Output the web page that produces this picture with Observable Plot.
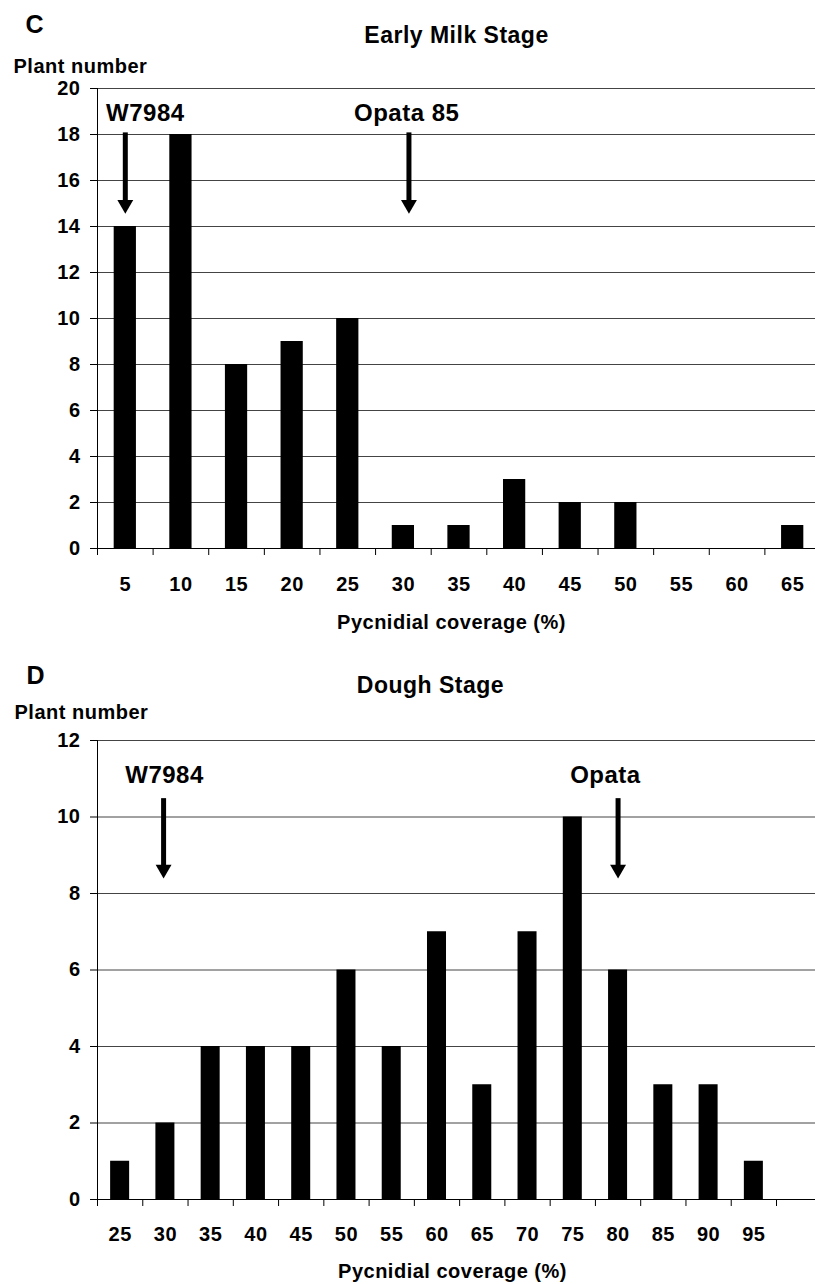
<!DOCTYPE html>
<html><head><meta charset="utf-8">
<script src="https://cdn.jsdelivr.net/npm/d3@7"></script>
<script src="https://cdn.jsdelivr.net/npm/@observablehq/plot@0.6"></script>
<style>
body{margin:0;background:#fff;}
#wrap{width:815px;}
#wrap svg{display:block;}
#wrap svg text{letter-spacing:0.5px;}
</style></head><body><div id="wrap"></div>
<script>
// ---- Panel C: Early Milk Stage ----
const milkCoverage = [5, 10, 15, 20, 25, 30, 35, 40, 45, 50, 55, 60, 65];
const milkPlants   = [14, 18, 8, 9, 10, 1, 1, 3, 2, 2, 0, 0, 1];
const milkYTicks   = [0, 2, 4, 6, 8, 10, 12, 14, 16, 18, 20];
const milkArrowNames = ["W7984", "Opata 85"];
const milkArrowX     = [5, 30.5];
const milkLabelX     = [6.8, 30.3];
const milkLabelY     = [18.6, 18.6];
const milkArrowTop   = [18.07, 18.07];
const milkArrowTip   = [14.55, 14.55];

// ---- Panel D: Dough Stage ----
const doughCoverage = [25, 30, 35, 40, 45, 50, 55, 60, 65, 70, 75, 80, 85, 90, 95];
const doughPlants   = [1, 2, 4, 4, 4, 6, 4, 7, 3, 7, 10, 6, 3, 3, 1];
const doughYTicks   = [0, 2, 4, 6, 8, 10, 12];
const doughArrowNames = ["W7984", "Opata"];
const doughArrowX     = [29.8, 80];
const doughLabelX     = [29.9, 78.6];
const doughLabelY     = [10.9, 10.9];
const doughArrowTop   = [10.48, 10.48];
const doughArrowTip   = [8.39, 8.39];

const FONT = "'Liberation Sans', Arial, Helvetica, sans-serif";

function panel(cfg) {
  const data = cfg.coverage.map((c, i) => ({c, n: cfg.plants[i]}));
  const lo = cfg.coverage[0] - 2.5;
  const hi = cfg.coverage[cfg.coverage.length - 1] + 2.5;
  const bounds = [...cfg.coverage.map(c => c - 2.5), hi];
  const arrows = cfg.names.map((name, i) => ({
    name, x: cfg.arrowX[i], lx: cfg.labelX[i], ly: cfg.labelY[i],
    top: cfg.arrowTop[i], tip: cfg.arrowTip[i]
  }));
  const ymax = cfg.yTicks[cfg.yTicks.length - 1];
  return Plot.plot({
    width: 815, height: cfg.height,
    marginLeft: 97, marginRight: 0, marginTop: cfg.marginTop, marginBottom: cfg.marginBottom,
    style: {fontFamily: FONT, fontSize: "20px", fontWeight: "bold", color: "#000", background: "#fff"},
    x: {type: "linear", domain: [lo, hi], range: [97, cfg.xRight], ticks: bounds,
        tickFormat: () => "", tickSize: 7, label: null},
    y: {domain: [0, ymax], ticks: cfg.yTicks, tickSize: 7, tickPadding: 10, label: null,
        tickFormat: d => String(d)},
    marks: [
      Plot.ruleY(cfg.yTicks.filter(t => t > 0), {stroke: "#444", strokeWidth: 1}),
      Plot.rect(data, {x1: d => d.c - cfg.halfBar, x2: d => d.c + cfg.halfBar, y1: 0, y2: "n", fill: "#000"}),
      Plot.ruleY([0], {stroke: "#000", strokeWidth: 1}),
      Plot.ruleX([lo], {stroke: "#000", strokeWidth: 1}),
      Plot.text(cfg.coverage, {x: d => d, y: 0, dy: cfg.tickLabelDy, lineAnchor: "bottom", text: d => String(d), fontSize: 20}),
      // arrows
      Plot.ruleX(arrows, {x: "x", y1: "top", y2: "tip", stroke: "#000", strokeWidth: 5, insetBottom: 12}),
      Plot.dot(arrows, {x: "x", y: "tip", symbol: "triangle", rotate: 180, r: 5.9, dy: -9.2, fill: "#000", stroke: "none"}),
      Plot.text(arrows, {x: "lx", y: "ly", text: "name", lineAnchor: "bottom", fontSize: 24}),
      // titles
      Plot.text([cfg.letter], {frameAnchor: "top-left", text: d => d, textAnchor: "start", lineAnchor: "bottom",
        dx: cfg.letterPos[0] - 97, dy: cfg.letterPos[1], fontSize: 25}),
      Plot.text([cfg.title], {frameAnchor: "top-left", text: d => d, textAnchor: "middle", lineAnchor: "bottom",
        dx: cfg.titlePos[0] - 97, dy: cfg.titlePos[1], fontSize: 23}),
      Plot.text(["Plant number"], {frameAnchor: "top-left", text: d => d, textAnchor: "start", lineAnchor: "bottom",
        dx: cfg.yLabelPos[0] - 97, dy: cfg.yLabelPos[1], fontSize: 20}),
      Plot.text(["Pycnidial coverage (%)"], {frameAnchor: "bottom-left", text: d => d, textAnchor: "middle", lineAnchor: "bottom",
        dx: cfg.xLabelPos[0] - 97, dy: cfg.xLabelPos[1], fontSize: 20})
    ]
  });
}

const wrap = document.getElementById("wrap");
wrap.appendChild(panel({
  coverage: milkCoverage, plants: milkPlants, yTicks: milkYTicks,
  names: milkArrowNames, arrowX: milkArrowX, labelX: milkLabelX, labelY: milkLabelY,
  arrowTop: milkArrowTop, arrowTip: milkArrowTip,
  height: 640, marginTop: 88, marginBottom: 92, xRight: 820, halfBar: 1.0,
  tickLabelDy: 42, letter: "C", title: "Early Milk Stage",
  letterPos: [25, -56], titlePos: [456, -46], yLabelPos: [13, -16], xLabelPos: [451, 80]
}));
wrap.appendChild(panel({
  coverage: doughCoverage, plants: doughPlants, yTicks: doughYTicks,
  names: doughArrowNames, arrowX: doughArrowX, labelX: doughLabelX, labelY: doughLabelY,
  arrowTop: doughArrowTop, arrowTip: doughArrowTip,
  height: 644, marginTop: 100, marginBottom: 85, xRight: 776, halfBar: 1.05,
  tickLabelDy: 41, letter: "D", title: "Dough Stage",
  letterPos: [26, -57], titlePos: [430, -48], yLabelPos: [14, -22], xLabelPos: [452, 78]
}));
</script></body></html>
